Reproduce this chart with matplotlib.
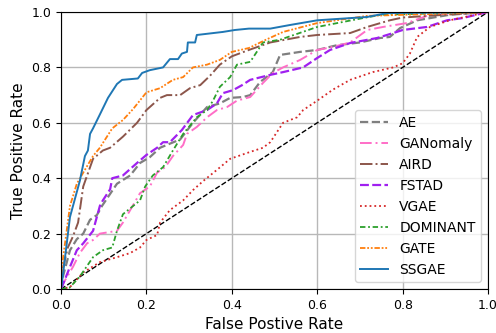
import numpy as np
import matplotlib
matplotlib.use('Agg')
import matplotlib.pyplot as plt

# ROC points (fpr, tpr)
ae_fpr = [0, 0.002, 0.021, 0.037, 0.052, 0.068, 0.084, 0.096, 0.131, 0.162, 0.185, 0.208, 0.232, 0.279, 0.309, 0.342, 0.372, 0.396, 0.426, 0.443, 0.466, 0.496, 0.513, 0.56, 0.60, 0.646, 0.70, 0.747, 0.77, 0.794, 0.834, 0.91, 1.0]
ae_tpr = [0, 0.03, 0.14, 0.18, 0.20, 0.25, 0.267, 0.30, 0.38, 0.41, 0.455, 0.476, 0.51, 0.54, 0.60, 0.657, 0.67, 0.69, 0.693, 0.70, 0.747, 0.783, 0.845, 0.856, 0.863, 0.88, 0.89, 0.906, 0.91, 0.942, 0.97, 0.99, 1.0]

gan_fpr = [0, 0.005, 0.028, 0.044, 0.061, 0.075, 0.091, 0.131, 0.145, 0.162, 0.185, 0.208, 0.225, 0.244, 0.262, 0.286, 0.295, 0.318, 0.342, 0.365, 0.389, 0.412, 0.443, 0.473, 0.496, 0.52, 0.56, 0.60, 0.637, 0.677, 0.717, 0.754, 0.81, 0.864, 1.0]
gan_tpr = [0, 0.02, 0.08, 0.13, 0.165, 0.177, 0.20, 0.21, 0.24, 0.285, 0.346, 0.37, 0.42, 0.44, 0.48, 0.52, 0.56, 0.585, 0.62, 0.646, 0.657, 0.68, 0.693, 0.744, 0.78, 0.80, 0.827, 0.863, 0.874, 0.89, 0.935, 0.946, 0.96, 0.99, 1.0]

aird_fpr = [0, 0.002, 0.016, 0.028, 0.04, 0.052, 0.075, 0.098, 0.115, 0.145, 0.178, 0.20, 0.232, 0.248, 0.279, 0.302, 0.326, 0.349, 0.372, 0.40, 0.44, 0.49, 0.56, 0.60, 0.677, 0.717, 0.77, 0.80, 1.0]
aird_tpr = [0, 0.06, 0.15, 0.19, 0.24, 0.37, 0.47, 0.50, 0.51, 0.55, 0.60, 0.646, 0.69, 0.70, 0.70, 0.725, 0.736, 0.77, 0.81, 0.84, 0.863, 0.89, 0.91, 0.917, 0.924, 0.946, 0.97, 0.98, 1.0]

fstad_fpr = [0, 0.002, 0.021, 0.037, 0.052, 0.075, 0.091, 0.098, 0.115, 0.12, 0.145, 0.178, 0.20, 0.225, 0.239, 0.255, 0.283, 0.309, 0.342, 0.365, 0.379, 0.403, 0.424, 0.443, 0.49, 0.52, 0.567, 0.60, 0.63, 0.677, 0.74, 0.778, 0.80, 0.857, 0.904, 0.94, 1.0]
fstad_tpr = [0, 0.007, 0.08, 0.14, 0.165, 0.21, 0.30, 0.32, 0.36, 0.40, 0.41, 0.455, 0.484, 0.51, 0.53, 0.53, 0.574, 0.628, 0.646, 0.67, 0.707, 0.718, 0.736, 0.755, 0.773, 0.783, 0.80, 0.834, 0.863, 0.888, 0.906, 0.924, 0.935, 0.946, 0.97, 0.978, 1.0]

vgae_fpr = [0, 0.021, 0.052, 0.091, 0.131, 0.162, 0.185, 0.20, 0.225, 0.232, 0.255, 0.286, 0.309, 0.333, 0.365, 0.396, 0.443, 0.473, 0.49, 0.52, 0.553, 0.567, 0.60, 0.637, 0.677, 0.73, 0.778, 0.80, 0.817, 0.834, 0.864, 0.91, 1.0]
vgae_tpr = [0, 0.007, 0.06, 0.097, 0.115, 0.13, 0.15, 0.177, 0.195, 0.24, 0.285, 0.32, 0.357, 0.39, 0.43, 0.47, 0.495, 0.51, 0.53, 0.60, 0.62, 0.646, 0.68, 0.72, 0.755, 0.783, 0.80, 0.815, 0.85, 0.91, 0.946, 0.97, 1.0]

dom_fpr = [0, 0.02, 0.044, 0.075, 0.098, 0.12, 0.131, 0.145, 0.169, 0.185, 0.197, 0.215, 0.239, 0.262, 0.286, 0.318, 0.342, 0.356, 0.372, 0.396, 0.412, 0.443, 0.473, 0.513, 0.60, 0.707, 0.75, 1.0]
dom_tpr = [0, 0.005, 0.045, 0.115, 0.14, 0.15, 0.21, 0.27, 0.30, 0.32, 0.37, 0.41, 0.44, 0.50, 0.56, 0.62, 0.646, 0.68, 0.73, 0.765, 0.81, 0.82, 0.89, 0.90, 0.946, 0.978, 0.99, 1.0]

gate_fpr = [0, 0.003, 0.005, 0.021, 0.037, 0.052, 0.075, 0.091, 0.12, 0.145, 0.169, 0.20, 0.232, 0.262, 0.286, 0.309, 0.342, 0.372, 0.40, 0.44, 0.48, 0.52, 0.60, 0.717, 0.94, 1.0]
gate_tpr = [0, 0.08, 0.115, 0.30, 0.38, 0.42, 0.48, 0.51, 0.58, 0.61, 0.65, 0.71, 0.725, 0.755, 0.765, 0.80, 0.81, 0.827, 0.856, 0.87, 0.90, 0.928, 0.96, 0.986, 0.996, 1.0]

ssgae_fpr = [0, 0.002, 0.021, 0.044, 0.056, 0.063, 0.068, 0.075, 0.091, 0.11, 0.131, 0.143, 0.18, 0.19, 0.208, 0.239, 0.255, 0.274, 0.283, 0.295, 0.297, 0.314, 0.318, 0.379, 0.407, 0.44, 0.49, 0.536, 0.60, 0.717, 0.763, 1.0]
ssgae_tpr = [0, 0.02, 0.26, 0.39, 0.48, 0.50, 0.56, 0.58, 0.63, 0.69, 0.74, 0.755, 0.76, 0.78, 0.79, 0.80, 0.83, 0.83, 0.85, 0.856, 0.89, 0.89, 0.917, 0.928, 0.935, 0.94, 0.94, 0.953, 0.97, 0.982, 0.996, 1.0]

fig, ax = plt.subplots(figsize=(4.96, 3.33), dpi=100)

ax.plot([0, 1], [0, 1], color='black', linestyle='--', linewidth=1)
ax.plot(ae_fpr, ae_tpr, color='#7f7f7f', linestyle='--', linewidth=1.6, label='AE')
ax.plot(gan_fpr, gan_tpr, color='#ff6ec7', linestyle=(0, (6, 2, 1, 2)), linewidth=1.4, label='GANomaly')
ax.plot(aird_fpr, aird_tpr, color='#8c564b', linestyle='-.', linewidth=1.4, label='AIRD')
ax.plot(fstad_fpr, fstad_tpr, color='#a020f0', linestyle=(0, (4, 1.5)), linewidth=1.6, label='FSTAD')
ax.plot(vgae_fpr, vgae_tpr, color='#d62728', linestyle=':', linewidth=1.3, label='VGAE')
ax.plot(dom_fpr, dom_tpr, color='#2ca02c', linestyle=(0, (3, 1.5, 1, 1.5)), linewidth=1.3, label='DOMINANT')
ax.plot(gate_fpr, gate_tpr, color='#ff7f0e', linestyle=(0, (3, 1, 1, 1, 1, 1)), linewidth=1.3, label='GATE')
ax.plot(ssgae_fpr, ssgae_tpr, color='#1f77b4', linestyle='-', linewidth=1.4, label='SSGAE')

ax.set_xlim(0, 1)
ax.set_ylim(0, 1)
ax.set_xlabel('False Postive Rate', fontsize=11)
ax.set_ylabel('True Positive Rate', fontsize=11)
ax.tick_params(labelsize=9)
ax.grid(True, color='#b8b8b8', linewidth=1)
ax.legend(loc='lower right', fontsize=10)

plt.subplots_adjust(left=0.123, right=0.984, top=0.964, bottom=0.132)
plt.savefig('out.png')
